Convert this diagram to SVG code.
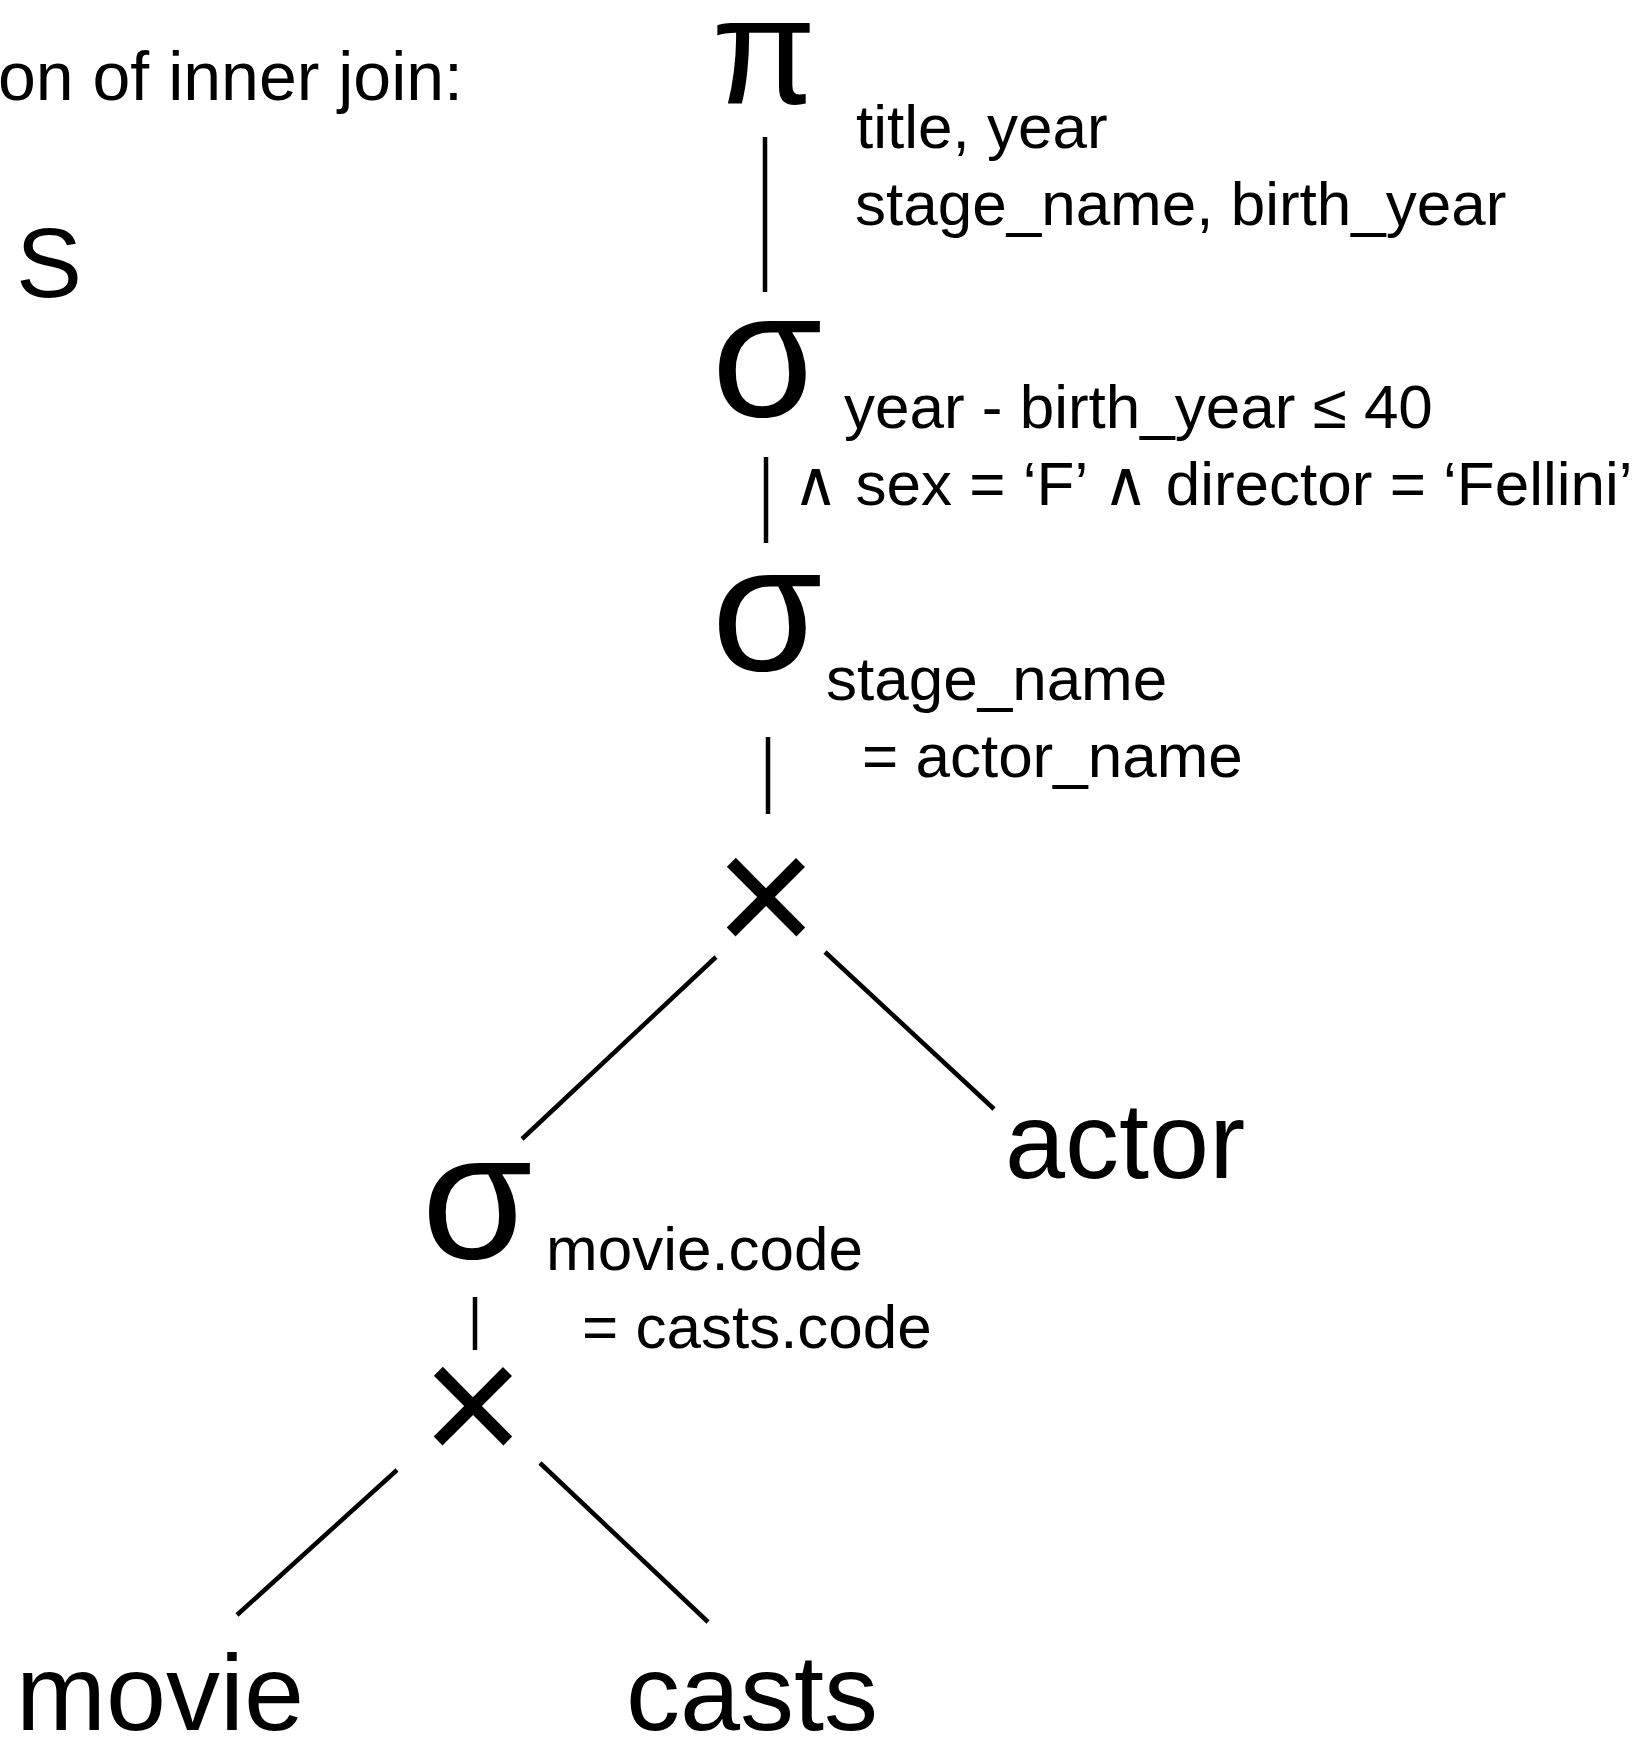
<svg xmlns="http://www.w3.org/2000/svg" width="1646" height="1738" viewBox="0 0 1646 1738">
  <style>
    text { font-family: "Liberation Sans", "DejaVu Sans", Arial, sans-serif; fill: #000; }
    .op { font-size: 180px; text-anchor: middle; }
    .pi { font-size: 152px; text-anchor: middle; }
    .x { font-size: 176px; text-anchor: middle; }
    .sub { font-size: 62px; }
    .rel { font-size: 108px; }
    .edge { stroke: #000; stroke-width: 4.5; fill: none; }
  </style>
  <rect width="1646" height="1738" fill="#fff"/>
  <text id="heading" x="463" y="100" font-size="68" text-anchor="end">on of inner join:</text>
  <text id="s" x="16" y="297" font-size="99">S</text>
  <g id="connectors">
    <line class="edge" x1="765" y1="137" x2="765" y2="292"/>
    <line class="edge" x1="766" y1="457" x2="766" y2="543"/>
    <line class="edge" x1="768" y1="737" x2="768" y2="814"/>
    <line class="edge" x1="716" y1="957" x2="522" y2="1139"/>
    <line class="edge" x1="825" y1="952" x2="994" y2="1109"/>
    <line class="edge" x1="475" y1="1297" x2="475" y2="1350"/>
    <line class="edge" x1="397" y1="1470" x2="237" y2="1615"/>
    <line class="edge" x1="540" y1="1463" x2="708" y2="1622"/>
  </g>
  <g id="project">
    <text class="pi" x="764" y="104">π</text>
    <text class="sub" x="856" y="148">title, year</text>
    <text class="sub" x="855" y="225">stage_name, birth_year</text>
  </g>
  <g id="select-year">
    <text class="op" x="767" y="416">σ</text>
    <text class="sub" x="844" y="428">year - birth_year ≤ 40</text>
    <text class="sub" x="793" y="505">∧ sex = ‘F’ ∧ director = ‘Fellini’</text>
  </g>
  <g id="select-name">
    <text class="op" x="767" y="670">σ</text>
    <text class="sub" x="826" y="700">stage_name</text>
    <text class="sub" x="862" y="777">= actor_name</text>
  </g>
  <g id="product-top">
    <text class="x" x="766" y="956">×</text>
  </g>
  <g id="actor">
    <text class="rel" x="1005" y="1178">actor</text>
  </g>
  <g id="select-code">
    <text class="op" x="477" y="1258">σ</text>
    <text class="sub" x="546" y="1270">movie.code</text>
    <text class="sub" x="582" y="1348">= casts.code</text>
  </g>
  <g id="product-bottom">
    <text class="x" x="473" y="1465">×</text>
  </g>
  <g id="movie">
    <text class="rel" x="16" y="1730">movie</text>
  </g>
  <g id="casts">
    <text class="rel" x="626" y="1730">casts</text>
  </g>
</svg>
